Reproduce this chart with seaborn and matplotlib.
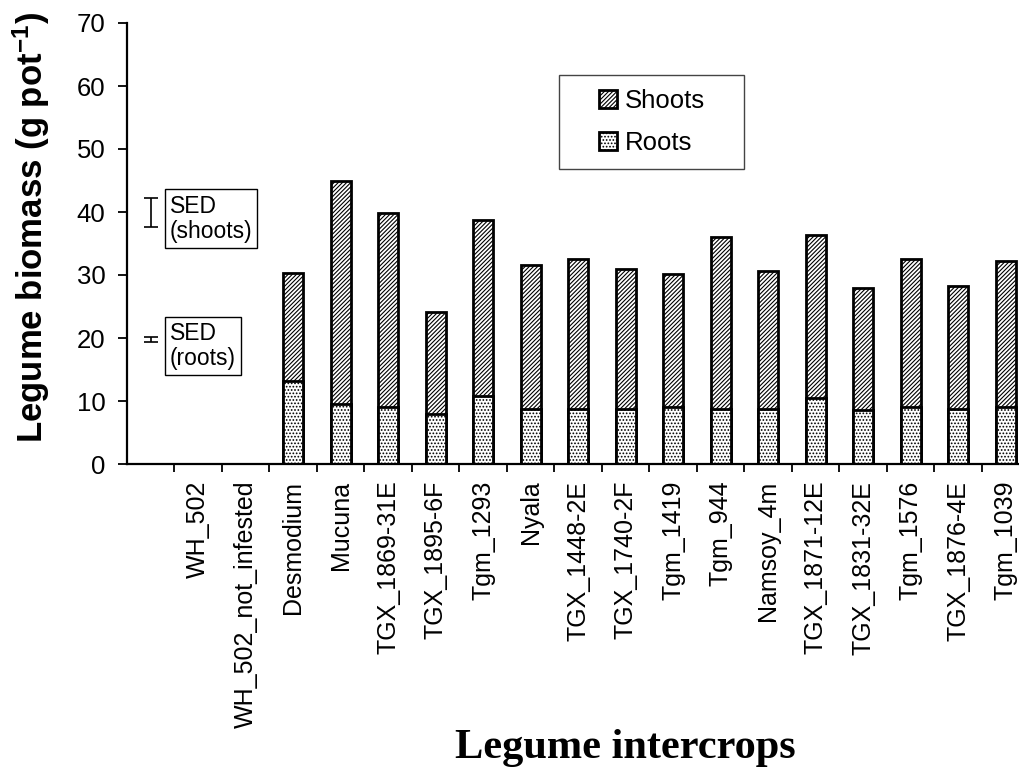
import matplotlib
matplotlib.use("Agg")
import matplotlib.pyplot as plt
from matplotlib.patches import Patch, Rectangle
import numpy as np
import pandas as pd
import seaborn as sns

# Legume intercrops and biomass components (g pot-1)
categories = ["WH_502", "WH_502_not_infested", "Desmodium", "Mucuna",
              "TGX_1869-31E", "TGX_1895-6F", "Tgm_1293", "Nyala",
              "TGX_1448-2E", "TGX_1740-2F", "Tgm_1419", "Tgm_944",
              "Namsoy_4m", "TGX_1871-12E", "TGX_1831-32E", "Tgm_1576",
              "TGX_1876-4E", "Tgm_1039"]
roots = [0, 0, 13.2, 9.5, 9.1, 8.0, 10.8, 8.8, 8.8, 8.8, 9.1, 8.8,
         8.8, 10.5, 8.6, 9.0, 8.8, 9.0]
shoots = [0, 0, 17.1, 35.5, 30.8, 16.2, 27.9, 22.8, 23.8, 22.1, 21.1, 27.2,
          21.8, 25.8, 19.3, 23.5, 19.4, 23.3]

# Standard errors of difference
sed_labels = ["SED\n(shoots)", "SED\n(roots)"]
sed_centres = [39.95, 19.7]
sed_halfwidths = [2.35, 0.4]

y_ticks = [0, 10, 20, 30, 40, 50, 60, 70]

df = pd.DataFrame({"crop": categories, "roots": roots, "shoots": shoots})
df["total"] = df["roots"] + df["shoots"]

SHOOT_HATCH = "////////"
ROOT_HATCH = "....."

sns.set_style("ticks")
plt.rcParams["font.family"] = ["Liberation Sans", "DejaVu Sans"]
plt.rcParams["text.color"] = "black"
plt.rcParams["xtick.color"] = "black"
plt.rcParams["ytick.color"] = "black"
plt.rcParams["xtick.labelcolor"] = "black"
plt.rcParams["ytick.labelcolor"] = "black"
plt.rcParams["hatch.linewidth"] = 0.8
plt.rcParams["hatch.color"] = "black"
plt.rcParams["mathtext.fontset"] = "custom"
plt.rcParams["mathtext.rm"] = "Liberation Sans:bold"
plt.rcParams["mathtext.it"] = "Liberation Sans:bold"
plt.rcParams["mathtext.bf"] = "Liberation Sans:bold"

fig = plt.figure(figsize=(10.2, 7.81), dpi=100)
ax = fig.add_axes([127 / 1020, 1 - 464 / 781, 902.5 / 1020, 441 / 781])

bar_kw = dict(width=0.42, color="white", edgecolor="black", linewidth=2.0,
              saturation=1, order=categories, ax=ax)
# full stack (shoots on top of roots), then roots over it
sns.barplot(data=df, x="crop", y="total", hatch=SHOOT_HATCH, **bar_kw)
sns.barplot(data=df, x="crop", y="roots", hatch=ROOT_HATCH, **bar_kw)

ax.set_xlim(-1.5, 17.5)
ax.set_ylim(0, 70)
ax.set_yticks(y_ticks)
ax.set_yticklabels([str(v) for v in y_ticks], fontsize=18.5)
ax.set_xticks(range(len(categories)))
ax.set_xticklabels(categories, rotation=90, fontsize=18)
ax.set_xticks(np.arange(-0.5, len(categories), 1.0), minor=True)
ax.tick_params(axis="x", which="major", length=0, pad=12)
ax.tick_params(axis="x", which="minor", length=5.5, width=1.3,
               direction="out", color="black")
ax.tick_params(axis="y", length=6.5, width=1.3, direction="out",
               pad=9, color="black")
ax.set_xlabel("")
ax.set_ylabel("")
for s in ["top", "right"]:
    ax.spines[s].set_visible(False)
for s in ["left", "bottom"]:
    ax.spines[s].set_linewidth(1.6)
    ax.spines[s].set_color("black")

# SED error bars with their boxed labels in the first slot
for lab, c, h in zip(sed_labels, sed_centres, sed_halfwidths):
    ax.errorbar(-1.0, c, yerr=h, fmt="none", ecolor="black",
                elinewidth=1.2, capsize=5, capthick=1.2)
    ax.text(-0.6, c - 1.0, lab, fontsize=16.5, ha="left", va="center",
            linespacing=1.12, color="black",
            bbox=dict(boxstyle="square,pad=0.22", facecolor="white",
                      edgecolor="black", linewidth=1.0))

# legend
handles = [Patch(facecolor="white", edgecolor="black", hatch=SHOOT_HATCH,
                 linewidth=2.0, label="Shoots"),
           Patch(facecolor="white", edgecolor="black", hatch=ROOT_HATCH,
                 linewidth=2.0, label="Roots")]
fig.legend(handles=handles, loc="center",
           bbox_to_anchor=(652 / 1020, 1 - 122 / 781), frameon=False,
           fontsize=18.5, labelspacing=0.7, handlelength=0.7,
           handleheight=0.7, handletextpad=0.3, labelcolor="black")
fig.add_artist(Rectangle((559 / 1020, 1 - 169 / 781), 185 / 1020, 94 / 781,
                         transform=fig.transFigure, fill=False,
                         edgecolor="#444444", linewidth=1.0))

fig.text(31 / 1020, 1 - 228 / 781, r"Legume biomass (g pot$^{-1}$)",
         rotation=90, ha="center", va="center", fontsize=25,
         fontweight="bold", color="black")
fig.text(625 / 1020, 1 - 758 / 781, "Legume intercrops", ha="center",
         va="baseline", fontsize=30.5, fontweight="bold", color="black",
         family=["Liberation Serif", "DejaVu Serif"])

fig.savefig("out.png", dpi=100)
